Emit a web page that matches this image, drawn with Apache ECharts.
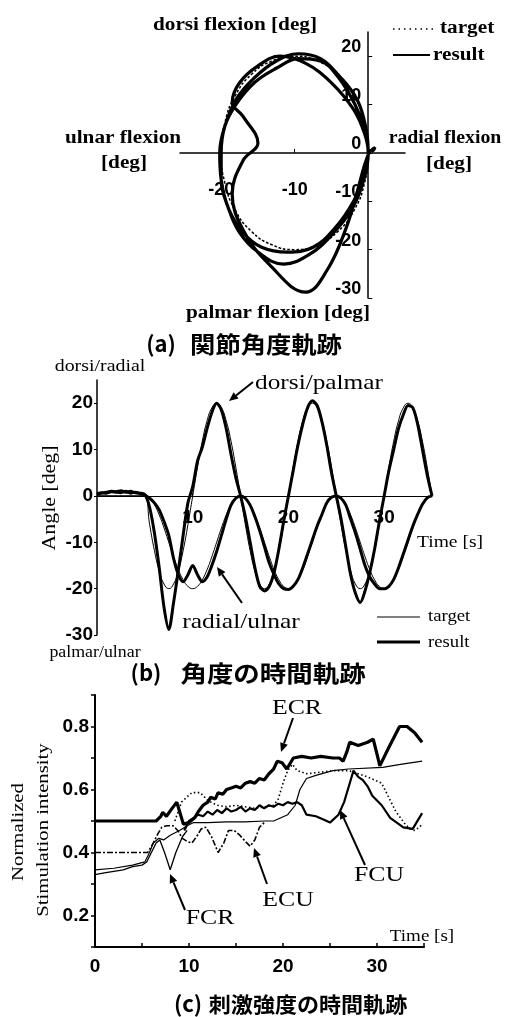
<!DOCTYPE html>
<html><head><meta charset="utf-8">
<script src="https://cdn.jsdelivr.net/npm/echarts@6/dist/echarts.min.js"></script>
<style>html,body{margin:0;padding:0;background:#fff}#c{width:510px;height:1017px}</style>
</head><body><div id="c"></div>
<script>
// ---------- Panel (b) time series (also used for the trajectory in panel (a)) ----------
const timeB = [0,0.5,1,1.5,2,2.5,3,3.5,4,4.5,5,5.5,6,6.5,7,7.5,8,8.5,9,9.5,10,10.5,11,11.5,12,12.5,13,13.5,14,14.5,15,15.5,16,16.5,17,17.5,18,18.5,19,19.5,20,20.5,21,21.5,22,22.5,23,23.5,24,24.5,25,25.5,26,26.5,27,27.5,28,28.5,29,29.5,30,30.5,31,31.5,32,32.5,33,33.5,34,34.5,35];
const targetDorsi = [0,0,0,0,0,0,0,0,0,0,0,
 -6.2,-11.8,-16.2,-19,-20,-19,-16.2,-11.8,-6.2,0,
 6.2,11.8,16.2,19,20,19,16.2,11.8,6.2,0,
 -6.2,-11.8,-16.2,-19,-20,-19,-16.2,-11.8,-6.2,0,
 6.2,11.8,16.2,19,20,19,16.2,11.8,6.2,0,
 -6.2,-11.8,-16.2,-19,-20,-19,-16.2,-11.8,-6.2,0,
 6.2,11.8,16.2,19,20,19,16.2,11.8,6.2,0];
const resultDorsi = [0.3,0.6,0.8,1,0.9,1.1,0.8,1,0.7,0.6,0.3,
 -2.5,-8,-15.5,-24,-28.8,-23,-16,-8.5,-1.5,2,
 7.5,10.5,14.5,18,20,18.5,14.5,9,4,0,
 -4.5,-10,-15.5,-19.5,-20.5,-19.5,-16.5,-11.5,-5.5,0,
 5.5,11,15.5,19,20.5,19.5,16,11,5,0,
 -5,-11,-17,-21,-23,-20.5,-16.5,-11.5,-5.5,0,
 5.5,10,14.5,17.5,19.5,19,15.5,10,4.5,0];
const targetRadial = [0,0,0,0,0,0,0,0,0,0,0,
 -0.5,-1.9,-4.1,-6.9,-10,-13.1,-15.9,-18.1,-19.5,-20,
 -19.5,-18.1,-15.9,-13.1,-10,-6.9,-4.1,-1.9,-0.5,0,
 -0.5,-1.9,-4.1,-6.9,-10,-13.1,-15.9,-18.1,-19.5,-20,
 -19.5,-18.1,-15.9,-13.1,-10,-6.9,-4.1,-1.9,-0.5,0,
 -0.5,-1.9,-4.1,-6.9,-10,-13.1,-15.9,-18.1,-19.5,-20,
 -19.5,-18.1,-15.9,-13.1,-10,-6.9,-4.1,-1.9,-0.5,0];
const resultRadial = [0.5,0.7,0.6,0.9,0.8,0.7,1,0.6,0.8,0.5,0.2,
 -0.5,-1.5,-3,-5.5,-8.5,-13.5,-17,-18.5,-17,-15,
 -17,-18.5,-17.5,-15,-12,-8.5,-5,-2,-0.5,0,
 -0.5,-2,-4.5,-7.5,-11,-14.5,-17,-19,-20,-20.2,
 -19.5,-18,-15.5,-12.5,-9.5,-6.5,-4,-1.5,-0.3,0,
 -0.5,-2,-5,-8,-11.5,-15,-17.5,-19,-20,-20,
 -19.5,-18,-15.5,-12.5,-9.5,-6.5,-4,-1.8,-0.4,0];

// ---------- Panel (c) stimulation intensity ----------
const ecrT = [0,6.5,7.0,7.2,7.6,8.2,8.7,9.0,9.4,10.0,10.6,11.0,11.5,12.0,12.3,12.8,13.1,13.6,14.0,14.5,15.0,15.5,16.0,16.5,17.0,17.5,18.0,18.5,19.0,19.4,19.9,20.4,21.1,22.0,23.0,24.0,25.3,26.0,26.4,26.8,27.1,28.0,29.0,29.6,30.1,30.3,31.2,32.4,33.2,34.0,34.8];
const ecrV = [0.5,0.5,0.515,0.527,0.515,0.54,0.56,0.53,0.49,0.495,0.51,0.53,0.55,0.56,0.575,0.57,0.59,0.585,0.60,0.605,0.61,0.605,0.62,0.625,0.62,0.635,0.63,0.65,0.665,0.69,0.685,0.665,0.70,0.705,0.70,0.705,0.70,0.70,0.69,0.72,0.75,0.74,0.75,0.76,0.70,0.675,0.73,0.80,0.80,0.78,0.75];
const thinT = [0,2,4,5.3,5.8,6.2,6.8,7.3,8,9,9.8,10.5,12,14,16,18,19,20.5,21.3,21.8,22.5,23.5,25.3,27,30.6,32.5,34.8];
const thinV = [0.345,0.35,0.36,0.37,0.40,0.43,0.445,0.44,0.455,0.47,0.485,0.495,0.495,0.497,0.497,0.5,0.5,0.52,0.55,0.60,0.635,0.645,0.66,0.665,0.67,0.68,0.69];
const ecuT = [0,5.6,6.2,6.7,7.1,7.6,8.3,8.8,9.3,9.8,10.3,10.8,11.3,11.8,12.4,13.1,13.7,14.2,14.8,15.4,16.0,16.5,17.0,17.5,18.0];
const ecuV = [0.4,0.4,0.43,0.46,0.48,0.485,0.485,0.47,0.445,0.435,0.43,0.45,0.475,0.48,0.45,0.40,0.43,0.47,0.47,0.455,0.435,0.42,0.44,0.48,0.495];
const fcrT = [0,1,2,3,4,5,5.5,6,6.5,6.9,7.4,8,8.6,9.3,9.8];
const fcrV = [0.33,0.335,0.34,0.345,0.355,0.36,0.37,0.40,0.43,0.44,0.40,0.345,0.40,0.45,0.47];
const fcuT = [9.5,10,10.5,11,11.5,12,12.5,13,13.5,14,14.5,15,15.5,16,16.5,17,17.5,18,18.5,19,19.5,20,20.5,21,21.5,22,22.5,23.5,24.3,25,25.9,26.5,27.1,27.5,28,28.5,29,29.5,30,30.5,31.4,32.8,33.8,34.8];
const fcuV = [0.47,0.50,0.51,0.52,0.515,0.53,0.52,0.535,0.525,0.54,0.53,0.535,0.545,0.53,0.54,0.535,0.55,0.54,0.55,0.545,0.555,0.55,0.56,0.555,0.56,0.55,0.52,0.515,0.505,0.495,0.52,0.56,0.62,0.66,0.64,0.63,0.61,0.58,0.565,0.55,0.51,0.48,0.475,0.525];
const dotT = [8.5,9.2,10.3,11.2,12,13,14,15,16,17,18,19,19.5,20,20.5,21,21.5,22.5,24,25.5,27,28,29,30.5,31,31.5,32,32.5,33,33.5,34,34.5,34.8];
const dotV = [0.5,0.56,0.59,0.59,0.565,0.55,0.545,0.55,0.545,0.54,0.545,0.55,0.57,0.62,0.66,0.68,0.66,0.65,0.655,0.66,0.66,0.65,0.64,0.62,0.59,0.56,0.53,0.51,0.49,0.475,0.47,0.48,0.49];

// tick labels
const ticksAY = [-30,-20,-10,0,10,20];
const ticksAX = [-20,-10];

const zip = (a,b) => a.map((v,i)=>[v,b[i]]);
const F_NUM = '"Liberation Sans", Arial, sans-serif';
const F_TXT = '"Liberation Serif", "Times New Roman", serif';
const F_JP = '"Noto Sans CJK JP", sans-serif';

function txt(x,y,s,size,opts){
  opts = opts||{};
  return {type:'text', x:x, y:y, rotation: opts.rot||0, scaleX: opts.sx||1, z:10,
    style:{text:s, fill:'#000', font:(opts.w||'bold')+' '+size+'px '+(opts.f||F_TXT),
      textAlign:opts.align||'center', textVerticalAlign:'middle'}};
}
function arrow(x1,y1,x2,y2){
  const a = Math.atan2(y2-y1,x2-x1), L=9, W=4;
  const bx = x2-L*Math.cos(a), by = y2-L*Math.sin(a);
  const px = -Math.sin(a)*W, py = Math.cos(a)*W;
  return [
    {type:'line', z:10, shape:{x1:x1,y1:y1,x2:bx,y2:by}, style:{stroke:'#000',lineWidth:2}},
    {type:'polygon', z:10, shape:{points:[[x2,y2],[bx+px,by+py],[bx-px,by-py]]}, style:{fill:'#000'}}
  ];
}
function hline(x1,x2,y,w,dash){
  return {type:'line', z:10, shape:{x1:x1,y1:y,x2:x2,y2:y}, style:{stroke:'#000',lineWidth:w,lineDash:dash||null}};
}

// grid geometry
const GA = {left:180, top:32, width:225, height:266};
const GB = {left:97, top:380, width:335, height:255};
const GC = {left:95, top:695, width:329, height:252};
// offsets putting panel (a)/(b) axes through zero
const offAX = -(GA.height - GA.height*25/55);   // x axis at y=0
const offAY = -(GA.width*25.6/30.6);             // y axis at x=0
const offBX = -(GB.height - GB.height*25/55);

const chart = echarts.init(document.getElementById('c'), null, {renderer:'canvas'});
const base = {splitLine:{show:false}};

const option = {
  backgroundColor:'#fff',
  animation:false,
  grid:[GA,GB,GC],
  xAxis:[
    Object.assign({}, base, {gridIndex:0, type:'value', min:-25.6, max:5, position:'bottom', offset:offAX,
      axisLine:{onZero:false, lineStyle:{color:'#000',width:1.5}},
      axisTick:{customValues:ticksAX, inside:true, length:4, lineStyle:{color:'#000'}},
      axisLabel:{customValues:ticksAX, margin:28, color:'#000', fontSize:18, fontWeight:'bold', fontFamily:F_NUM}}),
    Object.assign({}, base, {gridIndex:1, type:'value', min:0, max:35, interval:10, position:'bottom', offset:offBX,
      axisLine:{onZero:false, lineStyle:{color:'#000',width:1.2}},
      axisTick:{inside:true, length:3, lineStyle:{color:'#000'}},
      axisLabel:{margin:12, color:'#000', fontSize:19, fontWeight:'bold', fontFamily:F_NUM, showMaxLabel:false,
        formatter:v=> (v===0||v>30)?'':String(v)}}),
    Object.assign({}, base, {gridIndex:2, type:'value', min:0, max:35, interval:5,
      axisLine:{onZero:false, lineStyle:{color:'#000',width:2}},
      axisTick:{inside:true, length:4, lineStyle:{color:'#000',width:1.5}},
      axisLabel:{margin:10, color:'#000', fontSize:19, fontWeight:'bold', fontFamily:F_NUM,
        formatter:v=> (v%10===0)?String(v):''}})
  ],
  yAxis:[
    Object.assign({}, base, {gridIndex:0, type:'value', min:-30, max:25, position:'left', offset:offAY,
      axisLine:{onZero:false, lineStyle:{color:'#000',width:1.5}},
      axisTick:{customValues:ticksAY, inside:true, length:4, lineStyle:{color:'#000'}},
      axisLabel:{customValues:ticksAY, margin:7, verticalAlign:'bottom', color:'#000', fontSize:18, fontWeight:'bold', fontFamily:F_NUM}}),
    Object.assign({}, base, {gridIndex:1, type:'value', min:-30, max:25, interval:10,
      axisLine:{onZero:false, lineStyle:{color:'#000',width:1.5}},
      axisTick:{length:3, lineStyle:{color:'#000'}},
      axisLabel:{margin:4, color:'#000', fontSize:19, fontWeight:'bold', fontFamily:F_NUM, showMaxLabel:false,
        formatter:v=> v>20?'':String(v)}}),
    Object.assign({}, base, {gridIndex:2, type:'value', min:0.1, max:0.9, interval:0.1,
      axisLine:{onZero:false, lineStyle:{color:'#000',width:2}},
      axisTick:{length:4, lineStyle:{color:'#000',width:1.5}},
      axisLabel:{margin:6, color:'#000', fontSize:19, fontWeight:'bold', fontFamily:F_NUM,
        formatter:v=>{const n=Math.round(v*10); return (n%2===0 && n<9)?('0.'+n):'';}}})
  ],
  series:[
    // panel (a)
    {type:'line', xAxisIndex:0, yAxisIndex:0, showSymbol:false, smooth:0.5, data:zip(targetRadial,targetDorsi),
      lineStyle:{color:'#000', width:1.5, type:[1.5,3]}, z:3},
    {type:'line', xAxisIndex:0, yAxisIndex:0, showSymbol:false, smooth:0.4, data:zip(resultRadial,resultDorsi),
      lineStyle:{color:'#000', width:3.2}, z:4},
    // panel (b)
    {type:'line', xAxisIndex:1, yAxisIndex:1, showSymbol:false, smooth:0.5, data:zip(timeB,targetDorsi), lineStyle:{color:'#000',width:1}},
    {type:'line', xAxisIndex:1, yAxisIndex:1, showSymbol:false, smooth:0.5, data:zip(timeB,targetRadial), lineStyle:{color:'#000',width:1}},
    {type:'line', xAxisIndex:1, yAxisIndex:1, showSymbol:false, smooth:0.3, data:zip(timeB,resultDorsi), lineStyle:{color:'#000',width:3}},
    {type:'line', xAxisIndex:1, yAxisIndex:1, showSymbol:false, smooth:0.3, data:zip(timeB,resultRadial), lineStyle:{color:'#000',width:3}},
    // panel (c)
    {type:'line', xAxisIndex:2, yAxisIndex:2, showSymbol:false, data:zip(thinT,thinV), lineStyle:{color:'#000',width:1.2}},
    {type:'line', xAxisIndex:2, yAxisIndex:2, showSymbol:false, data:zip(dotT,dotV), lineStyle:{color:'#000',width:1.6,type:[1.5,2.5]}},
    {type:'line', xAxisIndex:2, yAxisIndex:2, showSymbol:false, data:zip(fcrT,fcrV), lineStyle:{color:'#000',width:1.3}},
    {type:'line', xAxisIndex:2, yAxisIndex:2, showSymbol:false, data:zip(ecuT,ecuV), lineStyle:{color:'#000',width:1.6,type:[6,2,2,2]}},
    {type:'line', xAxisIndex:2, yAxisIndex:2, showSymbol:false, data:zip(fcuT,fcuV), lineStyle:{color:'#000',width:2.2}},
    {type:'line', xAxisIndex:2, yAxisIndex:2, showSymbol:false, data:zip(ecrT,ecrV), lineStyle:{color:'#000',width:3.2}}
  ],
  graphic:[].concat(
    // panel (a) texts
    [txt(235,25,'dorsi flexion [deg]',18,{sx:1.18}),
     txt(278,313,'palmar flexion [deg]',18,{sx:1.18}),
     txt(123,138,'ulnar flexion',18,{sx:1.18}), txt(124,163,'[deg]',18,{sx:1.18}),
     txt(445,138,'radial flexion',18,{sx:1.1}), txt(449,164,'[deg]',18,{sx:1.18}),
     hline(393,434,29,1.5,[1.5,4]), txt(440,28,'target',18,{align:'left',sx:1.18}),
     hline(393,430,55,2), txt(433,55,'result',18,{align:'left',sx:1.18}),
     txt(161,344,'(a)',22,{f:F_JP,w:'bold'}),
     txt(266,344,'関節角度軌跡',23,{f:F_JP,w:'bold',sx:1.1})],
    // panel (b) texts
    [txt(100,367,'dorsi/radial',17,{w:'normal',sx:1.17}),
     txt(95,653,'palmar/ulnar',17,{w:'normal',sx:1.05}),
     txt(50,498,'Angle [deg]',19,{w:'normal',rot:Math.PI/2,sx:1.15}),
     txt(450,543,'Time [s]',17,{w:'normal',sx:1.15}),
     txt(319,383,'dorsi/palmar',22,{w:'normal',sx:1.15}),
     txt(241,622,'radial/ulnar',22,{w:'normal',sx:1.16}),
     hline(377,420,617,1), txt(428,617,'target',17,{align:'left',w:'normal',sx:1.1}),
     hline(377,420,642,3), txt(428,643,'result',17,{align:'left',w:'normal',sx:1.1}),
     txt(146,673,'(b)',22,{f:F_JP,w:'bold'}),
     txt(273,673,'角度の時間軌跡',23,{f:F_JP,w:'bold',sx:1.15})],
    arrow(253,382,229,401),
    arrow(242,603,217,567),
    // panel (c) texts
    [txt(19,832,'Normalized',17,{w:'normal',rot:Math.PI/2,sx:1.22}),
     txt(44,830,'Stimulation intensity',17,{w:'normal',rot:Math.PI/2,sx:1.22}),
     txt(422,937,'Time [s]',17,{w:'normal',sx:1.12}),
     txt(297,708,'ECR',22,{w:'normal',sx:1.17}),
     txt(288,900,'ECU',22,{w:'normal',sx:1.17}),
     txt(210,918,'FCR',22,{w:'normal',sx:1.17}),
     txt(379,875,'FCU',22,{w:'normal',sx:1.17}),
     txt(188,1004,'(c)',22,{f:F_JP,w:'bold'}),
     txt(308,1004,'刺激強度の時間軌跡',21,{f:F_JP,w:'bold',sx:1.05})],
    arrow(293,718,281,752),
    arrow(267,884,254,848),
    arrow(185,910,170,874),
    arrow(365,865,340,810)
  )
};
chart.setOption(option);
</script></body></html>
